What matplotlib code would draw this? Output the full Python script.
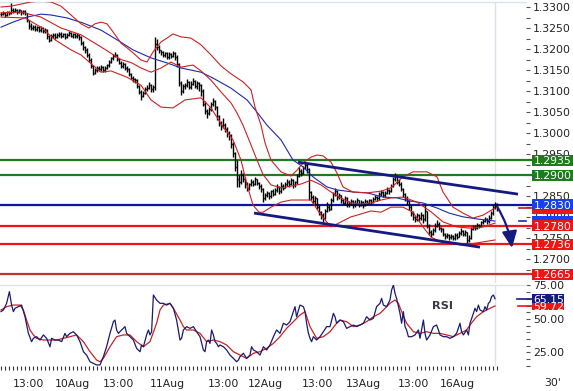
import matplotlib
matplotlib.use("Agg")
import matplotlib.pyplot as plt
import numpy as np
from matplotlib.collections import LineCollection
from matplotlib.patches import Rectangle
from matplotlib.transforms import blended_transform_factory

plt.rcParams["font.family"] = ["DejaVu Sans"]

# EUR/USD 30' bars, 9-16 Aug. Prices kept as pips above BASE.
BASE = 1.2600

close_pips = [
    684, 686, 682, 687, 685, 692, 690, 694, 688, 692,
    687, 690, 685, 668, 655, 650, 652, 648, 652, 645,
    650, 643, 646, 630, 622, 630, 634, 628, 633, 636,
    631, 635, 629, 633, 637, 632, 635, 630, 634, 628,
    615, 604, 598, 585, 575, 560, 542, 550, 556, 552,
    558, 549, 555, 561, 570, 578, 584, 586, 576, 568,
    560, 565, 556, 552, 540, 532, 528, 526, 512, 498,
    488, 495, 505, 508, 515, 504, 510, 612, 605, 598,
    592, 586, 590, 580, 588, 584, 590, 582, 565, 520,
    500, 512, 515, 522, 510, 518, 525, 512, 520, 514,
    500, 470, 452, 448, 458, 470, 476, 462, 440, 425,
    418, 420, 410, 400, 395, 375, 352, 320, 290, 285,
    300, 292, 280, 270, 278, 285, 280, 290, 282, 275,
    268, 245, 252, 258, 250, 262, 256, 265, 272, 262,
    275, 270, 278, 285, 280, 288, 276, 283, 298, 310,
    305, 318, 325, 315, 260, 248, 238, 245, 225, 212,
    205, 198, 215, 225, 220, 240, 255, 262, 248, 252,
    240, 235, 245, 232, 232, 238, 228, 235, 240, 230,
    236, 229, 238, 234, 240, 236, 244, 248, 245, 255,
    260, 252, 258, 265, 262, 275, 290, 298, 285, 280,
    268, 255, 245, 238, 225, 210, 200, 195, 205, 198,
    205, 195, 215, 180, 165, 160, 170, 180, 185, 175,
    172, 160, 155, 158, 152, 156, 150, 158, 154, 162,
    168, 160, 165, 145, 150, 172, 178, 175, 182, 180,
    188, 192, 195, 190, 198, 210, 225, 232, 221,
]
high_pips = [
    689, 690, 688, 690, 691, 709, 697, 698, 696, 695,
    694, 693, 692, 686, 670, 662, 658, 657, 656, 655,
    654, 652, 650, 648, 634, 636, 639, 637, 638, 641,
    640, 639, 637, 638, 642, 640, 639, 638, 637, 636,
    630, 618, 608, 602, 590, 579, 563, 555, 560, 560,
    562, 560, 559, 565, 574, 582, 588, 592, 588, 578,
    571, 569, 567, 560, 554, 543, 537, 532, 528, 515,
    502, 500, 510, 514, 521, 518, 514, 628, 625, 610,
    598, 595, 594, 592, 592, 591, 596, 592, 585, 568,
    525, 518, 520, 528, 525, 524, 531, 527, 524, 522,
    516, 504, 476, 458, 462, 475, 483, 478, 465, 444,
    430, 436, 425, 414, 405, 398, 380, 356, 336, 300,
    312, 305, 296, 284, 282, 290, 288, 295, 292, 285,
    278, 269, 258, 263, 261, 266, 268, 270, 278, 275,
    283, 280, 284, 290, 288, 293, 290, 287, 302, 319,
    314, 322, 331, 328, 318, 262, 252, 250, 246, 230,
    216, 210, 220, 236, 230, 245, 260, 269, 265, 258,
    254, 244, 250, 248, 238, 243, 240, 240, 245, 242,
    241, 238, 243, 241, 244, 243, 248, 252, 251, 259,
    266, 262, 263, 271, 268, 280, 296, 305, 300, 290,
    283, 270, 258, 250, 240, 228, 214, 204, 210, 208,
    212, 208, 229, 216, 183, 170, 175, 186, 193, 188,
    178, 174, 163, 162, 160, 161, 158, 163, 162, 168,
    174, 170, 170, 166, 158, 176, 182, 181, 186, 185,
    192, 197, 200, 198, 205, 215, 230, 236, 233,
]
low_pips = [
    678, 680, 677, 679, 681, 683, 686, 687, 684, 685,
    682, 683, 680, 664, 648, 645, 646, 642, 644, 640,
    641, 638, 639, 625, 617, 620, 627, 624, 626, 629,
    627, 628, 625, 626, 630, 628, 627, 626, 627, 622,
    610, 598, 590, 580, 569, 555, 538, 540, 546, 547,
    548, 545, 546, 552, 558, 566, 574, 580, 572, 564,
    556, 556, 550, 545, 536, 528, 522, 519, 508, 492,
    479, 485, 492, 500, 504, 499, 498, 502, 598, 590,
    586, 580, 582, 576, 577, 578, 581, 574, 558, 512,
    490, 496, 505, 510, 505, 506, 514, 508, 505, 500,
    488, 465, 446, 436, 444, 452, 465, 455, 432, 418,
    407, 412, 402, 390, 383, 365, 343, 310, 271, 272,
    280, 285, 269, 262, 264, 274, 275, 277, 276, 268,
    260, 236, 240, 247, 244, 246, 250, 252, 260, 256,
    258, 264, 269, 274, 272, 277, 270, 272, 280, 295,
    299, 302, 314, 305, 240, 240, 232, 229, 220, 205,
    196, 188, 195, 212, 214, 218, 236, 250, 242, 244,
    234, 228, 230, 224, 225, 228, 222, 224, 231, 225,
    227, 221, 226, 228, 232, 231, 234, 240, 238, 242,
    250, 248, 249, 255, 256, 259, 272, 286, 280, 274,
    262, 249, 238, 229, 218, 203, 193, 188, 191, 190,
    194, 186, 192, 174, 158, 152, 157, 166, 176, 170,
    164, 155, 149, 150, 146, 148, 145, 147, 149, 152,
    158, 155, 156, 138, 140, 148, 169, 170, 172, 175,
    178, 184, 188, 183, 187, 196, 206, 220, 215,
]

# indicator readings (bar number, pips above BASE)
ma_bars = [0, 6, 13, 20, 25, 33, 41, 50, 58, 66, 75, 83, 90, 100, 106, 115, 123, 128,
           133, 140, 146, 151, 156, 163, 168, 176, 183, 191, 198, 204, 211, 218, 224,
           231, 238, 247]
ma_pips = [652, 664, 676, 683, 681, 674, 662, 645, 622, 598, 579, 567, 555, 545, 531,
           507, 479, 450, 419, 384, 336, 320, 296, 272, 265, 260, 258, 248, 246, 239,
           234, 222, 210, 201, 196, 191]

upper_bars = [0, 5, 10, 15, 20, 25, 30, 35, 40, 44, 47, 50, 53, 56, 60, 63, 66, 70, 73,
              76, 80, 83, 86, 90, 95, 100, 105, 110, 115, 121, 125, 127, 130, 132, 135,
              140, 145, 148, 151, 155, 158, 161, 165, 168, 171, 176, 183, 190, 195, 201,
              206, 213, 218, 221, 226, 231, 236, 241, 247]
upper_pips = [700, 702, 707, 712, 714, 712, 702, 681, 660, 650, 660, 664, 660, 641, 614,
              603, 591, 574, 569, 593, 617, 626, 636, 629, 626, 610, 586, 560, 541, 522,
              503, 462, 419, 377, 336, 308, 298, 312, 329, 343, 348, 346, 331, 305, 272,
              260, 258, 262, 270, 296, 308, 308, 296, 260, 224, 210, 198, 205, 222]

mid_bars = [0, 10, 20, 30, 40, 50, 55, 60, 65, 70, 75, 80, 85, 90, 96, 100, 105, 110,
            115, 118, 121, 125, 128, 131, 135, 140, 145, 150, 155, 160, 165, 170, 175,
            180, 185, 190, 195, 201, 208, 215, 221, 228, 235, 241, 247]
mid_pips = [686, 688, 676, 650, 634, 605, 590, 575, 568, 555, 545, 555, 569, 557, 562,
            548, 526, 498, 472, 448, 419, 372, 336, 302, 277, 270, 274, 279, 288, 277,
            260, 246, 234, 232, 234, 241, 246, 248, 236, 213, 189, 177, 174, 177, 186]

lower_bars = [0, 12, 20, 27, 35, 40, 50, 55, 63, 70, 75, 80, 86, 92, 100, 105, 111, 116,
              120, 123, 126, 129, 131, 135, 140, 145, 150, 155, 160, 165, 170, 175, 178,
              185, 190, 195, 201, 206, 211, 215, 221, 231, 238, 247]
lower_pips = [676, 674, 652, 622, 598, 586, 545, 548, 533, 514, 479, 462, 460, 479, 484,
              460, 415, 384, 336, 277, 229, 212, 212, 224, 236, 241, 241, 241, 205, 177,
              189, 201, 205, 215, 212, 224, 224, 212, 177, 153, 139, 134, 139, 146]

# RSI (navy) and its signal line (red)
rsi_bars = [0, 1.2, 2.8, 4.2, 5.3, 6.2, 7, 8.7, 10.3, 12, 13.7, 15.3, 16.2, 17.8, 19.5,
            21.2, 22.8, 24.5, 25.3, 27, 28.7, 30.3, 32, 32.8, 34.5, 36.2, 37.8, 39.5,
            41.2, 42.8, 44.5, 46.2, 47.8, 49.5, 51.2, 52.8, 54.5, 56.2, 57, 57.8, 58.7,
            60.3, 62, 62.8, 64.5, 66.2, 67.8, 69.5, 70.3, 71.2, 72.8, 73.7, 74.5, 75.3,
            76.2, 77.8, 79.5, 81.2, 82.8, 84.5, 86.2, 87.8, 89.5, 90.3, 91.2, 92.8, 94.5,
            96.2, 97.8, 99.5, 101.2, 102, 102.8, 103.7, 104.5, 105.3, 106.2, 107, 107.8,
            108.7, 109.5, 111.2, 112.8, 114.5, 116.2, 117.8, 118.7, 119.5, 121.2, 122.8,
            124.5, 125.3, 126.2, 127.8, 129.5, 131.2, 132.8, 134.5, 136.2, 137.8, 139.5,
            141.2, 142.8, 144.5, 146.2, 147, 147.8, 149.5, 151.2, 152, 152.8, 153.7,
            154.5, 155.3, 156.2, 157.8, 159.5, 161.2, 162.8, 164.5, 166.2, 167, 167.8,
            169.5, 171.2, 172.8, 174.5, 176.2, 177.8, 179.5, 181.2, 182.8, 184.5, 186.2,
            187.8, 189.5, 190.3, 191.2, 192.8, 194.5, 195.3, 196.2, 197, 197.8, 199.5,
            200.3, 201.2, 202, 202.8, 203.7, 205.3, 207, 208.7, 209.5, 211.2, 212, 212.8,
            214.5, 216.2, 217.8, 218.7, 219.5, 221.2, 222.8, 224.5, 226.2, 227.8, 229.5,
            230.3, 231.2, 232.8, 233.7, 234.5, 236.2, 237, 237.8, 238.7, 239.5, 241.2,
            242, 242.8, 243.7, 244.5, 245.3, 246.2, 247]
rsi_vals = [55.5, 56.7, 61.7, 70.4, 60.4, 55.5, 58, 59.2, 60.4, 51.7, 39.3, 33.1, 35.6,
            36.8, 34.3, 38.1, 35.6, 29.3, 35.6, 34.3, 34.3, 33.1, 39.3, 36.8, 39.3, 40.5,
            38.1, 33.1, 25.6, 23.1, 18.1, 16.9, 15.7, 15.7, 21.9, 29.3, 39.3, 48, 49.2,
            41.8, 39.3, 41.8, 44.3, 39.3, 36.8, 34.3, 28.1, 25.6, 30.6, 29.3, 38.1, 41.8,
            38.1, 40.5, 67.9, 64.2, 61.7, 61.7, 60.4, 61.7, 58, 49.2, 34.3, 35.6, 41.8,
            44.3, 43, 44.3, 40.5, 36.8, 26.9, 25.6, 33.1, 34.3, 31.8, 41.8, 38.1, 33.1,
            31.8, 29.3, 30.6, 29.3, 26.9, 23.1, 20.6, 18.1, 19.4, 21.9, 24.4, 20.6, 23.1,
            29.3, 26.9, 25.6, 23.1, 29.3, 26.9, 30.6, 36.8, 41.8, 39.3, 46.8, 45.5, 48,
            55.5, 59.2, 51.7, 60.4, 59.2, 55.5, 46.8, 39.3, 35.6, 33.1, 36.8, 34.3, 36.8,
            40.5, 44.3, 44.3, 54.2, 51.7, 46.8, 49.2, 48, 43, 44.3, 45.5, 44.3, 45.5,
            46.8, 51.7, 49.2, 50.5, 59.2, 61.7, 65.4, 60.4, 59.2, 64.2, 71.6, 75.4, 69.1,
            65.4, 54.2, 46.8, 55.5, 44.3, 41.8, 36.8, 36.8, 38.1, 41.8, 35.6, 49.2, 39.3,
            34.3, 38.1, 44.3, 45.5, 41.8, 38.1, 36.8, 36.8, 35.6, 36.8, 39.3, 46.8, 40.5,
            38.1, 41.8, 38.1, 46.8, 54.2, 58, 55.5, 60.4, 56.7, 55.5, 59.2, 56.7, 61.7,
            62.9, 66.7, 67.9, 65.15]
sig_bars = [0, 2.8, 6.2, 9.5, 11.2, 12.8, 14.5, 16.2, 17.8, 21.2, 24.5, 27.8, 31.2, 34.5,
            37.8, 41.2, 44.5, 47.8, 49.5, 51.2, 54.5, 57.8, 61.2, 64.5, 67.8, 71.2, 74.5,
            77.8, 79.5, 81.2, 84.5, 86.2, 89.5, 91.2, 92.8, 96.2, 99.5, 102.8, 106.2,
            109.5, 112.8, 116.2, 119.5, 122.8, 126.2, 129.5, 132.8, 136.2, 139.5, 142.8,
            146.2, 149.5, 152, 154.5, 157.8, 161.2, 164.5, 167.8, 169.5, 172.8, 176.2,
            179.5, 182.8, 186.2, 189.5, 191.2, 194.5, 197, 198.7, 200.3, 202.8, 206.2,
            209.5, 212.8, 216.2, 219.5, 222.8, 226.2, 229.5, 232.8, 234.5, 237.8, 241.2,
            244.5, 247]
sig_vals = [56.7, 59.2, 60.4, 60.4, 56.7, 49.2, 41.8, 38.1, 35.6, 34.3, 34.3, 34.3, 35.6,
            36.8, 38.1, 33.1, 25.6, 19.4, 18.1, 20.6, 29.3, 36.8, 38.1, 38.1, 33.1, 29.3,
            33.1, 46.8, 56.7, 60.4, 61.7, 58, 49.2, 44.3, 41.8, 41.8, 39.3, 33.1, 34.3,
            33.1, 30.6, 25.6, 23.1, 20.6, 24.4, 25.6, 28.1, 31.8, 36.8, 43, 48, 53, 55.5,
            44.3, 35.6, 36.8, 40.5, 46.8, 49.2, 48, 44.3, 45.5, 48, 51.7, 54.2, 56.7, 61.7,
            64.2, 61.7, 55.5, 46.8, 40.5, 39.3, 40.5, 39.3, 39.3, 38.1, 36.8, 39.3, 41.8,
            45.5, 51.7, 55.5, 58, 59.72]

# horizontal support / resistance levels
levels = [1.2935, 1.2900, 1.2830, 1.2780, 1.2736, 1.2665]
level_line_colors = ["#1e7b1e", "#1e7b1e", "#0c16a6", "#ee1515", "#ee1515", "#c8302c"]
level_box_colors = ["#1e7b1e", "#1e7b1e", "#1740f0", "#ee1515", "#ee1515", "#ee1515"]

# channel lines and projected move
trend_up_bars = [148.5, 258.5]
trend_up_prices = [1.2931, 1.2855]
trend_dn_bars = [126.5, 239.5]
trend_dn_prices = [1.2810, 1.2729]
arrow_start = (248, 1.2826)
arrow_end = (255.5, 1.2727)

time_labels = ["13:00", "10Aug", "13:00", "11Aug", "13:00", "12Aug", "13:00", "13Aug",
               "13:00", "16Aug"]
time_label_bars = [13.75, 35.75, 58.75, 83, 111, 132, 158, 181, 206, 228]

NAVY = "#141a80"
BAND_RED = "#cc2222"
GRID = "#d9e3ea"
W, H = 573, 391
AX_RIGHT = 526
FS = 7.8


def px_box(x0, y0, x1, y1):
    return [x0 / W, 1 - y1 / H, (x1 - x0) / W, (y1 - y0) / H]


fig = plt.figure(figsize=(W / 100, H / 100), dpi=100)
ax = fig.add_axes(px_box(0, 2, AX_RIGHT, 283))
rsi_ax = fig.add_axes(px_box(0, 285, AX_RIGHT, 366))
ax.set_zorder(3)
ax.patch.set_visible(False)

xlim = (-0.5, AX_RIGHT / 2 - 0.5)
for a in (ax, rsi_ax):
    a.set_xlim(*xlim)
    for side in ("left", "right", "bottom"):
        a.spines[side].set_visible(False)
    a.spines["top"].set_color(GRID)
    a.spines["top"].set_linewidth(1)
    a.axvline(247, color=GRID, lw=1, zorder=0)
    a.yaxis.tick_right()
    a.tick_params(axis="y", which="both", direction="out", length=3, width=0.8,
                  color="#555555", pad=2.2, labelsize=FS, labelcolor="#222222")

p_top = 1.3300 + 5 * 2.378e-4
p_bot = 1.3300 - 276 * 2.378e-4
ax.set_ylim(p_bot, p_top)
rsi_ax.set_ylim(14.92, 75.37)

# ---- price bars
close = BASE + np.array(close_pips) / 1e4
high = BASE + np.array(high_pips) / 1e4
low = BASE + np.array(low_pips) / 1e4
opens = np.r_[close[0], close[:-1]]
segs = []
for i in range(len(close)):
    segs.append([(i, low[i]), (i, high[i])])
    segs.append([(i - 0.6, opens[i]), (i, opens[i])])
    segs.append([(i, close[i]), (i + 0.6, close[i])])
ax.add_collection(LineCollection(segs, colors="black", linewidths=1.0, zorder=4))

# ---- indicators
ax.plot(ma_bars, BASE + np.array(ma_pips) / 1e4, color="#1c2aa8", lw=0.8, zorder=5)
for b, p in ((upper_bars, upper_pips), (mid_bars, mid_pips), (lower_bars, lower_pips)):
    ax.plot(b, BASE + np.array(p) / 1e4, color=BAND_RED, lw=0.8, zorder=5)

# ---- levels with their labels
tr = blended_transform_factory(ax.transAxes, ax.transData)
box_h = 11 * 2.378e-4


def price_box(value, text, face, zorder, a=ax, t=tr, h=box_h, width=41):
    a.add_patch(Rectangle((532 / AX_RIGHT, value - h / 2), width / AX_RIGHT, h,
                          transform=t, facecolor=face, edgecolor="none",
                          clip_on=False, zorder=zorder))
    if text:
        a.annotate(text, xy=(533.5 / AX_RIGHT, value), xycoords=t, xytext=(0, -2.8),
                   textcoords="offset points", va="baseline", ha="left", color="white",
                   fontsize=FS, zorder=zorder + 0.1, annotation_clip=False)


# last close and moving average tags sit underneath the level tags
ax.plot([519 / AX_RIGHT, 533 / AX_RIGHT], [close[-1]] * 2, transform=tr, clip_on=False,
        color="#b41e1e", lw=1.2, zorder=6)
ax.plot([519 / AX_RIGHT, 526 / AX_RIGHT], [BASE + ma_pips[-1] / 1e4] * 2, transform=tr,
        clip_on=False, color="#1c2aa8", lw=1.2, zorder=6)
price_box(close[-1], "", "#ee1515", 6)
price_box(BASE + ma_pips[-1] / 1e4, "", "#1740f0", 6.5)

for k, (lv, lc, bc) in enumerate(zip(levels, level_line_colors, level_box_colors)):
    ax.axhline(lv, xmin=0, xmax=532 / AX_RIGHT, color=lc, lw=1.6, clip_on=False, zorder=3)
    price_box(lv, f"{lv:.4f}", bc, 8 + k)

ax.plot(trend_up_bars, trend_up_prices, color=NAVY, lw=2.0, solid_capstyle="butt", zorder=6)
ax.plot(trend_dn_bars, trend_dn_prices, color=NAVY, lw=2.0, solid_capstyle="butt", zorder=6)
ax.annotate("", xy=arrow_end, xytext=arrow_start, annotation_clip=False, zorder=7,
            arrowprops=dict(arrowstyle="-|>,head_length=1.0,head_width=0.45",
                            mutation_scale=10, connectionstyle="arc3,rad=-0.1",
                            shrinkA=0, shrinkB=0, color=NAVY, lw=1.6))

ax.set_yticks(np.arange(1.2700, 1.33001, 0.005))
ax.set_yticks(np.arange(1.2675, 1.33001, 0.005), minor=True)
ax.yaxis.set_major_formatter(matplotlib.ticker.FormatStrFormatter("%.4f"))
ax.tick_params(axis="x", which="both", bottom=False, labelbottom=False)

# ---- RSI panel
rsi_ax.plot(rsi_bars, rsi_vals, color="#1a1a70", lw=0.9, zorder=4)
rsi_ax.plot(sig_bars, sig_vals, color=BAND_RED, lw=0.9, zorder=3)
rsi_ax.set_yticks([25, 50, 75])
rsi_ax.set_yticks(np.arange(15, 76, 5), minor=True)
rsi_ax.yaxis.set_major_formatter(matplotlib.ticker.FormatStrFormatter("%.2f"))

rtr = blended_transform_factory(rsi_ax.transAxes, rsi_ax.transData)
rsi_ax.plot([517 / AX_RIGHT, 532 / AX_RIGHT], [rsi_vals[-1]] * 2, transform=rtr,
            clip_on=False, color=NAVY, lw=1.2)
rsi_ax.plot([518 / AX_RIGHT, 532 / AX_RIGHT], [sig_vals[-1]] * 2, transform=rtr,
            clip_on=False, color="#ee1515", lw=1.2)
price_box(sig_vals[-1], f"{sig_vals[-1]:.2f}", "#ee1515", 6, a=rsi_ax, t=rtr,
          h=9 * 0.7463, width=32)
price_box(rsi_vals[-1], f"{rsi_vals[-1]:.2f}", NAVY, 7, a=rsi_ax, t=rtr,
          h=9 * 0.7463, width=32)

rsi_ax.set_xticks(time_label_bars)
rsi_ax.set_xticklabels(time_labels)
rsi_ax.set_xticks(np.arange(0, 249, 2), minor=True)
rsi_ax.tick_params(axis="x", which="major", length=0, pad=9.4, labelsize=FS,
                   labelcolor="#222222")
rsi_ax.tick_params(axis="x", which="minor", direction="out", length=3.2, width=0.8,
                   color="#333333")

fig.text(442.5 / W, 1 - 306 / H, "RSI", ha="center", va="center", fontsize=8.2,
         fontweight="bold", color="#3a3a48")
fig.text(553 / W, 1 - 383 / H, "30'", ha="center", va="center", fontsize=FS, color="#222222")

fig.savefig("out.png", dpi=100, facecolor="white")
